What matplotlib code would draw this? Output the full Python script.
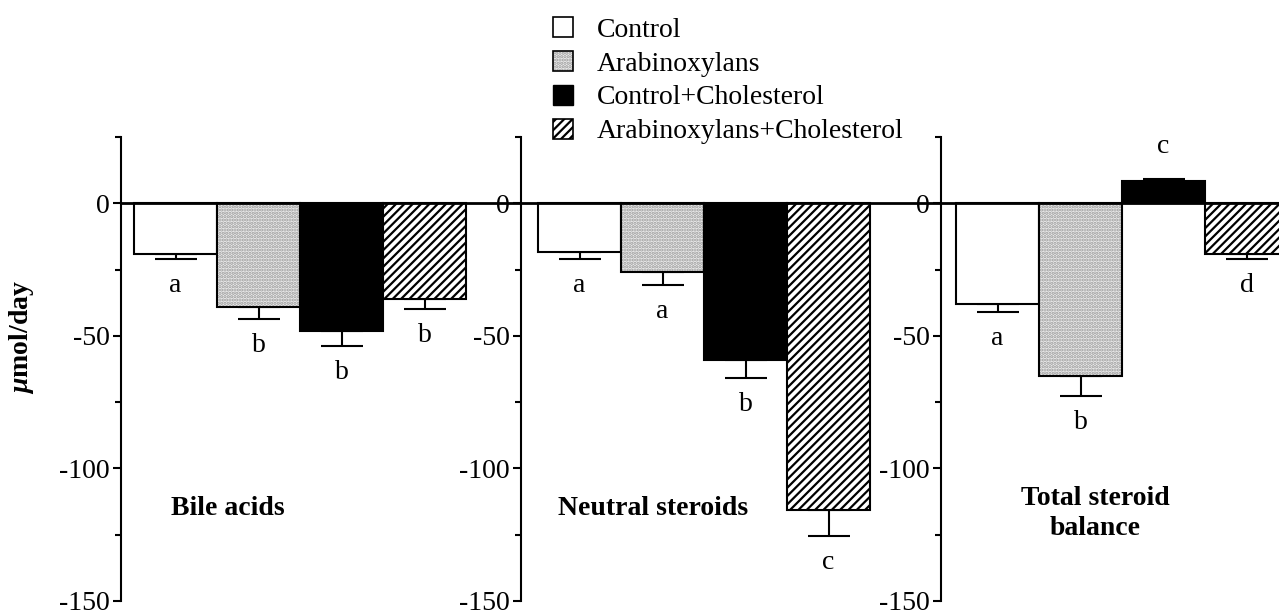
import matplotlib
matplotlib.use("Agg")
import matplotlib.pyplot as plt
from matplotlib.patches import Patch
import numpy as np

plt.rcParams['font.family'] = ['Liberation Serif', 'DejaVu Serif']
plt.rcParams['axes.unicode_minus'] = False
plt.rcParams['hatch.linewidth'] = 1.6
plt.rcParams['hatch.color'] = '#9a9a9a'
plt.rcParams['mathtext.fontset'] = 'custom'
plt.rcParams['mathtext.bfit'] = 'Liberation Serif:italic:bold'

groups = ["Control", "Arabinoxylans", "Control+Cholesterol", "Arabinoxylans+Cholesterol"]
panels = ["Bile acids", "Neutral steroids", "Total steroid\nbalance"]

# means and SEM (umol/day) per panel, order = groups
bile_mean = [-19, -39, -48, -36]
bile_err = [2, 4.5, 6, 4]
bile_letters = ["a", "b", "b", "b"]

neutral_mean = [-18.5, -26, -59, -115.5]
neutral_err = [2.5, 5, 7, 10]
neutral_letters = ["a", "a", "b", "c"]

total_mean = [-38, -65, 8.5, -19]
total_err = [3, 7.5, 0.8, 2]
total_letters = ["a", "b", "c", "d"]

means = [bile_mean, neutral_mean, total_mean]
errs = [bile_err, neutral_err, total_err]
letters = [bile_letters, neutral_letters, total_letters]

# bar styles
styles = [
    dict(facecolor='white', edgecolor='black', hatch=None),
    dict(facecolor='#ececec', edgecolor=None, hatch='.....'),
    dict(facecolor='black', edgecolor='black', hatch=None),
    dict(facecolor='white', edgecolor='black', hatch='////'),
]

W, H = 1279, 616
fig = plt.figure(figsize=(W / 100, H / 100), dpi=100)

# axes layout in pixels: (left spine x, right x, x offset of first bar)
layout = [(121, 521, 13), (521, 941, 17), (941, 1279, 15)]
bw = 83.0  # bar width in px
top_px, bot_px = 137, 601
title_pos = [(228, -115), (653, -115), (1095, -117)]

fs = 20
for k in range(3):
    l, r, off = layout[k]
    ax = fig.add_axes([l / W, 1 - bot_px / H, (r - l) / W, (bot_px - top_px) / H])
    x0 = -off / bw
    ax.set_xlim(x0, x0 + (r - l) / bw)
    ax.set_ylim(-150, 25)
    x = np.arange(4)
    m = np.array(means[k])
    e = np.array(errs[k])
    for i in range(4):
        st = styles[i]
        ax.bar(x[i], m[i], width=1, align='edge', facecolor=st['facecolor'],
               edgecolor=st['edgecolor'], hatch=st['hatch'], linewidth=1.5, zorder=3)
        if st['edgecolor'] is None:
            ax.bar(x[i], m[i], width=1, align='edge', fill=False, edgecolor='black',
                   linewidth=1.5, zorder=4)
    lower = np.where(m < 0, e, 0)
    upper = np.where(m > 0, e, 0)
    ax.errorbar(x + 0.5, m, yerr=[lower, upper], fmt='none', ecolor='black',
                elinewidth=1.5, capsize=15, capthick=1.5, zorder=2)
    for i in range(4):
        ly = m[i] - e[i] - 10 if m[i] < 0 else m[i] + e[i] + 12
        ax.text(x[i] + 0.5, ly, letters[k][i], ha='center', va='center', fontsize=fs)
    ax.axhline(0, color='black', linewidth=2, zorder=5)
    tx, ty = title_pos[k]
    ax.text(x0 + (tx - l) / bw, ty, panels[k], ha='center', va='center',
            fontsize=fs, fontweight='bold', linespacing=1.22)
    for s in ['top', 'right', 'bottom']:
        ax.spines[s].set_visible(False)
    ax.spines['left'].set_linewidth(1.5)
    ax.set_xticks([])
    ax.set_yticks([0, -50, -100, -150])
    ax.set_yticks([25, -25, -75, -125], minor=True)
    ax.tick_params(axis='y', which='major', length=6, width=1.5, labelsize=fs, pad=2)
    ax.tick_params(axis='y', which='minor', length=4, width=1.5)
    ax.patch.set_visible(False)

fig.text(22 / W, 1 - 337 / H, r"$\mathbfit{\mu}$mol/day", rotation=90, ha='center',
         va='center', fontsize=fs, fontweight='bold')

leg_handles = [
    Patch(facecolor='white', edgecolor='black', linewidth=1.2),
    (Patch(facecolor='#ececec', hatch='.....'), Patch(fill=False, edgecolor='black', linewidth=1.2)),
    Patch(facecolor='black', edgecolor='black'),
    Patch(facecolor='white', edgecolor='black', hatch='////', linewidth=1.2),
]
fig.legend(leg_handles, groups, loc='upper left', bbox_to_anchor=(553 / W, 1 - 17 / H),
           frameon=False, fontsize=fs, handlelength=0.72, handleheight=0.72,
           handletextpad=0.86, labelspacing=0.3, borderpad=0, borderaxespad=0)

fig.savefig("out.png", dpi=100)
